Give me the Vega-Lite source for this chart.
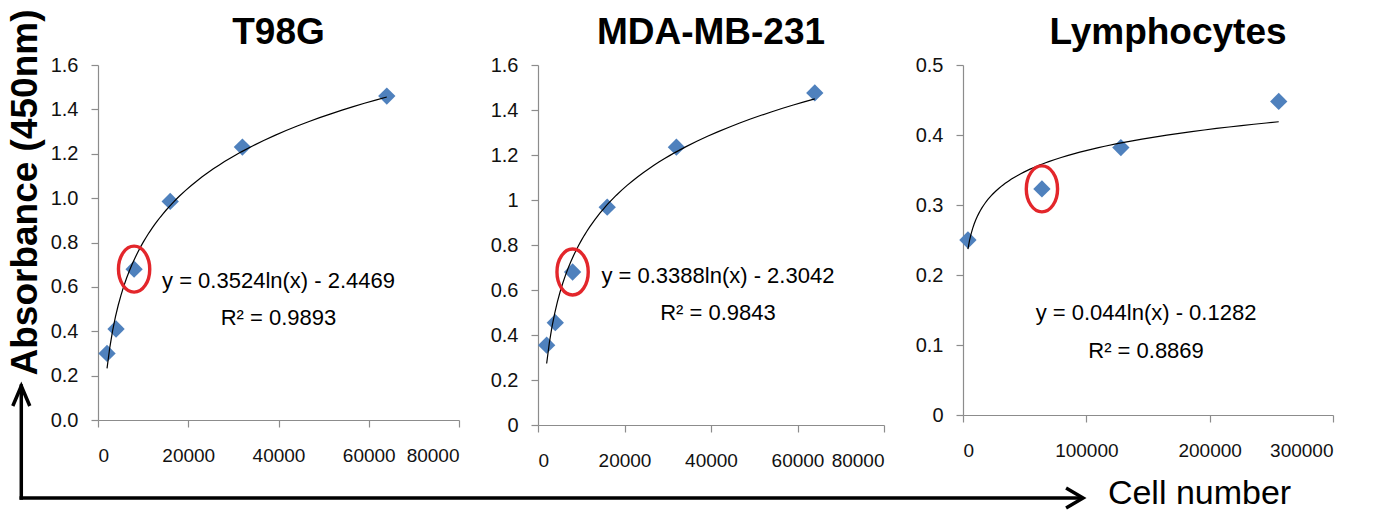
{
  "$schema": "https://vega.github.io/schema/vega-lite/v6.json",
  "background": "white",
  "padding": {"left": 5, "top": 9, "right": 5, "bottom": 0},
  "config": {
    "view": {"stroke": null},
    "axis": {"grid": false, "domainColor": "#8c8c8c", "tickColor": "#8c8c8c", "labelFont": "Liberation Sans", "labelFontSize": 19, "labelColor": "#111111", "tickSize": 7, "domainWidth": 1.2, "tickWidth": 1.2},
    "axisX": {"labelPadding": 19},
    "axisY": {"labelPadding": 13, "labelFontSize": 20},
    "title": {"font": "Liberation Sans", "fontSize": 37, "fontWeight": "bold", "color": "black", "anchor": "middle", "offset": 3, "frame": "group", "baseline": "alphabetic"},
    "text": {"font": "Liberation Sans", "fontSize": 22, "color": "black", "baseline": "middle"}
  },
  "datasets": {
    "t98g": [
      {"cells": 2000, "absorbance": 0.30, "circled": false},
      {"cells": 4000, "absorbance": 0.41, "circled": false},
      {"cells": 8000, "absorbance": 0.68, "circled": true},
      {"cells": 16000, "absorbance": 0.985, "circled": false},
      {"cells": 32000, "absorbance": 1.23, "circled": false},
      {"cells": 64000, "absorbance": 1.46, "circled": false}
    ],
    "mda": [
      {"cells": 2000, "absorbance": 0.355, "circled": false},
      {"cells": 4000, "absorbance": 0.455, "circled": false},
      {"cells": 8000, "absorbance": 0.68, "circled": true},
      {"cells": 16000, "absorbance": 0.968, "circled": false},
      {"cells": 32000, "absorbance": 1.235, "circled": false},
      {"cells": 64000, "absorbance": 1.476, "circled": false}
    ],
    "lymph": [
      {"cells": 4000, "absorbance": 0.25, "circled": false},
      {"cells": 64000, "absorbance": 0.323, "circled": true},
      {"cells": 128000, "absorbance": 0.382, "circled": false},
      {"cells": 256000, "absorbance": 0.448, "circled": false}
    ]
  },
  "bounds": "flush",
  "spacing": 79,
  "hconcat": [
    {
      "title": {"text": "T98G", "offset": -43},
      "width": 361,
      "height": 355,
      "layer": [
        {
          "data": {"name": "t98g"},
          "mark": {"type": "point", "shape": "diamond", "filled": true, "color": "#4F81BD", "size": 300, "opacity": 1},
          "encoding": {
            "x": {"field": "cells", "type": "quantitative", "scale": {"domain": [0, 80000], "nice": false}, "axis": {"values": [0, 20000, 40000, 60000, 80000], "format": "d", "title": null}},
            "y": {"field": "absorbance", "type": "quantitative", "scale": {"domain": [0, 1.6], "nice": false}, "axis": {"values": [0, 0.2, 0.4, 0.6, 0.8, 1.0, 1.2, 1.4, 1.6], "format": ".1f", "title": "Absorbance (450nm)", "titleFont": "Liberation Sans", "titleFontSize": 37, "titleFontWeight": "bold", "titleColor": "black", "titlePadding": 6, "titleY": 127}}
          }
        },
        {
          "data": {"name": "t98g"},
          "transform": [{"regression": "absorbance", "on": "cells", "method": "log"}],
          "mark": {"type": "line", "color": "black", "strokeWidth": 1.2},
          "encoding": {"x": {"field": "cells", "type": "quantitative"}, "y": {"field": "absorbance", "type": "quantitative"}}
        },
        {
          "data": {"name": "t98g"},
          "transform": [{"filter": "datum.circled"}],
          "mark": {"type": "point", "shape": "M0,-1 A0.68,1 0 1,1 0,1 A0.68,1 0 1,1 0,-1 Z", "filled": false, "stroke": "#E3262B", "strokeWidth": 3.4, "size": 2116, "opacity": 1},
          "encoding": {"x": {"field": "cells", "type": "quantitative"}, "y": {"field": "absorbance", "type": "quantitative"}}
        },
        {
          "data": {"values": [{}]},
          "mark": {"type": "text", "text": "y = 0.3524ln(x) - 2.4469"},
          "encoding": {"x": {"datum": 40000}, "y": {"datum": 0.627}}
        },
        {
          "data": {"values": [{}]},
          "mark": {"type": "text", "text": "R² = 0.9893"},
          "encoding": {"x": {"datum": 40000}, "y": {"datum": 0.46}}
        },
        {
          "data": {"values": [{}]},
          "mark": {"type": "rule", "color": "black", "strokeWidth": 3.5, "strokeCap": "square"},
          "encoding": {"x": {"datum": -17000}, "y": {"datum": -0.3515}, "y2": {"datum": 0.153}}
        },
        {
          "data": {"values": [{}]},
          "mark": {"type": "rule", "color": "black", "strokeWidth": 3.5, "strokeCap": "square"},
          "encoding": {"x": {"datum": -17000}, "x2": {"datum": 217400}, "y": {"datum": -0.3515}}
        },
        {
          "data": {"values": [{}]},
          "mark": {"type": "point", "shape": "M-1.7,-1 L0,0 L-1.7,1", "filled": false, "stroke": "black", "strokeWidth": 3.5, "size": 400, "opacity": 1},
          "encoding": {"x": {"datum": 218300}, "y": {"datum": -0.3515}}
        },
        {
          "data": {"values": [{}]},
          "mark": {"type": "point", "shape": "M-0.85,2 L0,0 L0.85,2", "filled": false, "stroke": "black", "strokeWidth": 3.5, "size": 400, "opacity": 1},
          "encoding": {"x": {"datum": -17000}, "y": {"datum": 0.153}}
        },
        {
          "data": {"values": [{}]},
          "mark": {"type": "text", "text": "Cell number", "align": "left", "fontSize": 34},
          "encoding": {"x": {"datum": 223800}, "y": {"datum": -0.3335}}
        }
      ]
    },
    {
      "title": {"text": "MDA-MB-231"},
      "width": 346,
      "height": 360,
      "layer": [
        {
          "data": {"name": "mda"},
          "mark": {"type": "point", "shape": "diamond", "filled": true, "color": "#4F81BD", "size": 300, "opacity": 1},
          "encoding": {
            "x": {"field": "cells", "type": "quantitative", "scale": {"domain": [0, 80000], "nice": false}, "axis": {"values": [0, 20000, 40000, 60000, 80000], "format": "d", "title": null}},
            "y": {"field": "absorbance", "type": "quantitative", "scale": {"domain": [0, 1.6], "nice": false}, "axis": {"values": [0, 0.2, 0.4, 0.6, 0.8, 1.0, 1.2, 1.4, 1.6], "format": ".1~f", "title": null}}
          }
        },
        {
          "data": {"name": "mda"},
          "transform": [{"regression": "absorbance", "on": "cells", "method": "log"}],
          "mark": {"type": "line", "color": "black", "strokeWidth": 1.2},
          "encoding": {"x": {"field": "cells", "type": "quantitative"}, "y": {"field": "absorbance", "type": "quantitative"}}
        },
        {
          "data": {"name": "mda"},
          "transform": [{"filter": "datum.circled"}],
          "mark": {"type": "point", "shape": "M0,-1 A0.68,1 0 1,1 0,1 A0.68,1 0 1,1 0,-1 Z", "filled": false, "stroke": "#E3262B", "strokeWidth": 3.4, "size": 2116, "opacity": 1},
          "encoding": {"x": {"field": "cells", "type": "quantitative"}, "y": {"field": "absorbance", "type": "quantitative"}}
        },
        {
          "data": {"values": [{}]},
          "mark": {"type": "text", "text": "y = 0.3388ln(x) - 2.3042"},
          "encoding": {"x": {"datum": 41600}, "y": {"datum": 0.662}}
        },
        {
          "data": {"values": [{}]},
          "mark": {"type": "text", "text": "R² = 0.9843"},
          "encoding": {"x": {"datum": 41600}, "y": {"datum": 0.498}}
        }
      ]
    },
    {
      "title": {"text": "Lymphocytes", "dx": 20},
      "width": 370,
      "height": 350,
      "layer": [
        {
          "data": {"name": "lymph"},
          "mark": {"type": "point", "shape": "diamond", "filled": true, "color": "#4F81BD", "size": 300, "opacity": 1},
          "encoding": {
            "x": {"field": "cells", "type": "quantitative", "scale": {"domain": [0, 300000], "nice": false}, "axis": {"values": [0, 100000, 200000, 300000], "format": "d", "title": null}},
            "y": {"field": "absorbance", "type": "quantitative", "scale": {"domain": [0, 0.5], "nice": false}, "axis": {"values": [0, 0.1, 0.2, 0.3, 0.4, 0.5], "format": ".1~f", "title": null}}
          }
        },
        {
          "data": {"name": "lymph"},
          "transform": [{"regression": "absorbance", "on": "cells", "method": "log"}],
          "mark": {"type": "line", "color": "black", "strokeWidth": 1.2},
          "encoding": {"x": {"field": "cells", "type": "quantitative"}, "y": {"field": "absorbance", "type": "quantitative"}}
        },
        {
          "data": {"name": "lymph"},
          "transform": [{"filter": "datum.circled"}],
          "mark": {"type": "point", "shape": "M0,-1 A0.68,1 0 1,1 0,1 A0.68,1 0 1,1 0,-1 Z", "filled": false, "stroke": "#E3262B", "strokeWidth": 3.4, "size": 2116, "opacity": 1},
          "encoding": {"x": {"field": "cells", "type": "quantitative"}, "y": {"field": "absorbance", "type": "quantitative"}}
        },
        {
          "data": {"values": [{}]},
          "mark": {"type": "text", "text": "y = 0.044ln(x) - 0.1282"},
          "encoding": {"x": {"datum": 148400}, "y": {"datum": 0.146}}
        },
        {
          "data": {"values": [{}]},
          "mark": {"type": "text", "text": "R² = 0.8869"},
          "encoding": {"x": {"datum": 148400}, "y": {"datum": 0.092}}
        }
      ]
    }
  ]
}
